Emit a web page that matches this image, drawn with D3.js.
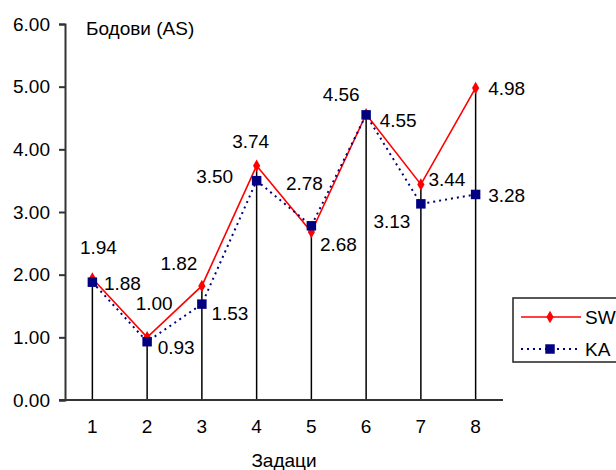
<!DOCTYPE html>
<html>
<head>
<meta charset="utf-8">
<script src="https://cdn.jsdelivr.net/npm/d3@7"></script>
<style>
  body { margin: 0; background: #fff; }
  text { font-family: "Liberation Sans", Arial, sans-serif; fill: #000; }
</style>
</head>
<body>
<div id="wrapper"></div>
<script>
const tasks = ["1", "2", "3", "4", "5", "6", "7", "8"]
const swValues = [1.94, 1.00, 1.82, 3.74, 2.68, 4.56, 3.44, 4.98]
const kaValues = [1.88, 0.93, 1.53, 3.50, 2.78, 4.55, 3.13, 3.28]
const yTicks = [0, 1, 2, 3, 4, 5, 6]

// where excel had the labels dragged to (offset from the point)
const swLabelOffset = [[6, -31], [7, -34], [-23, -22], [-6, -24], [27, 12], [-25, -20], [26, -5], [31, 1]]
const kaLabelOffset = [[30, 1], [29, 6], [28, 9], [-42, -4], [-7, -42], [32, 6], [-29, 18], [31, 1]]

const dimensions = {
  width: 616,
  height: 470,
  margin: { top: 24, right: 113, bottom: 70, left: 65 },
}
dimensions.boundedWidth = dimensions.width - dimensions.margin.left - dimensions.margin.right
dimensions.boundedHeight = dimensions.height - dimensions.margin.top - dimensions.margin.bottom

const svg = d3.select("#wrapper").append("svg")
  .attr("width", dimensions.width)
  .attr("height", dimensions.height)

const bounds = svg.append("g")
  .attr("transform", `translate(${dimensions.margin.left},${dimensions.margin.top})`)

const xScale = d3.scaleBand().domain(tasks).range([0, dimensions.boundedWidth])
const yScale = d3.scaleLinear().domain([0, 6]).range([dimensions.boundedHeight, 0])
const xPos = i => xScale(tasks[i]) + xScale.bandwidth() / 2

// drop lines
bounds.selectAll(".drop").data(tasks).join("line")
  .attr("class", "drop")
  .attr("x1", (d, i) => xPos(i)).attr("x2", (d, i) => xPos(i))
  .attr("y1", yScale(0))
  .attr("y2", (d, i) => yScale(Math.max(swValues[i], kaValues[i])))
  .attr("stroke", "#000").attr("stroke-width", 1.5)

// axes
const yAxis = d3.axisLeft(yScale).tickValues(yTicks).tickFormat(d3.format(".2f")).tickSizeOuter(0).tickSize(6).tickPadding(9)
const yAxisGroup = bounds.append("g").call(yAxis)
yAxisGroup.select(".domain").attr("stroke", "#333").attr("stroke-width", 2)
yAxisGroup.selectAll(".tick line").attr("stroke", "#333").attr("stroke-width", 2)
yAxisGroup.selectAll("text").style("font-size", "19px").attr("fill", "#000")

const xAxis = d3.axisBottom(xScale).tickSize(0).tickPadding(20)
const xAxisGroup = bounds.append("g").attr("transform", `translate(0,${dimensions.boundedHeight})`).call(xAxis)
xAxisGroup.select(".domain").attr("stroke", "#333").attr("stroke-width", 2).attr("d", `M-6,0H${dimensions.boundedWidth}`)
xAxisGroup.selectAll("text").style("font-size", "19px").attr("fill", "#000")

// series lines
const lineGen = d3.line().x((d, i) => xPos(i)).y(d => yScale(d))
bounds.append("path").datum(swValues).attr("d", lineGen)
  .attr("fill", "none").attr("stroke", "#ff0000").attr("stroke-width", 1.6)
bounds.append("path").datum(kaValues).attr("d", lineGen)
  .attr("fill", "none").attr("stroke", "#000080").attr("stroke-width", 2).attr("stroke-dasharray", "2,4")

const diamond = d3.symbol().type(d3.symbolDiamond).size(45)
const square = d3.symbol().type(d3.symbolSquare).size(90)

bounds.selectAll(".sw").data(swValues).join("path")
  .attr("class", "sw").attr("d", diamond)
  .attr("transform", (d, i) => `translate(${xPos(i)},${yScale(d)})`)
  .attr("fill", "#ff0000")
bounds.selectAll(".ka").data(kaValues).join("path")
  .attr("class", "ka").attr("d", square)
  .attr("transform", (d, i) => `translate(${xPos(i)},${yScale(d)})`)
  .attr("fill", "#000080")

// data labels
const drawLabels = (values, offsets, cls) => {
  bounds.selectAll("." + cls).data(values).join("text")
    .attr("class", cls)
    .attr("x", (d, i) => xPos(i) + offsets[i][0])
    .attr("y", (d, i) => yScale(d) + offsets[i][1])
    .attr("text-anchor", "middle").attr("dominant-baseline", "central")
    .style("font-size", "19px")
    .text(d => d3.format(".2f")(d))
}
drawLabels(swValues, swLabelOffset, "swlab")
drawLabels(kaValues, kaLabelOffset, "kalab")

// axis titles
svg.append("text").attr("x", 86).attr("y", 28).attr("dominant-baseline", "central")
  .style("font-size", "19px").text("Бодови (AS)")
svg.append("text").attr("x", dimensions.margin.left + dimensions.boundedWidth / 2).attr("y", 460)
  .attr("dominant-baseline", "central").attr("text-anchor", "middle")
  .style("font-size", "19px").text("Задаци")

// legend
const legend = svg.append("g").attr("transform", "translate(513,298)")
legend.append("rect").attr("width", 120).attr("height", 64)
  .attr("fill", "#fff").attr("stroke", "#222").attr("stroke-width", 1.5)
legend.append("line").attr("x1", 8).attr("x2", 68).attr("y1", 19).attr("y2", 19)
  .attr("stroke", "#ff0000").attr("stroke-width", 1.6)
legend.append("path").attr("d", diamond).attr("transform", "translate(37,19)").attr("fill", "#ff0000")
legend.append("line").attr("x1", 8).attr("x2", 68).attr("y1", 51).attr("y2", 51)
  .attr("stroke", "#000080").attr("stroke-width", 2).attr("stroke-dasharray", "2,4")
legend.append("path").attr("d", square).attr("transform", "translate(37,51)").attr("fill", "#000080")
legend.append("text").attr("x", 72).attr("y", 19).attr("dominant-baseline", "central").style("font-size", "19px").text("SW")
legend.append("text").attr("x", 72).attr("y", 51).attr("dominant-baseline", "central").style("font-size", "19px").text("KA")
</script>
</body>
</html>
